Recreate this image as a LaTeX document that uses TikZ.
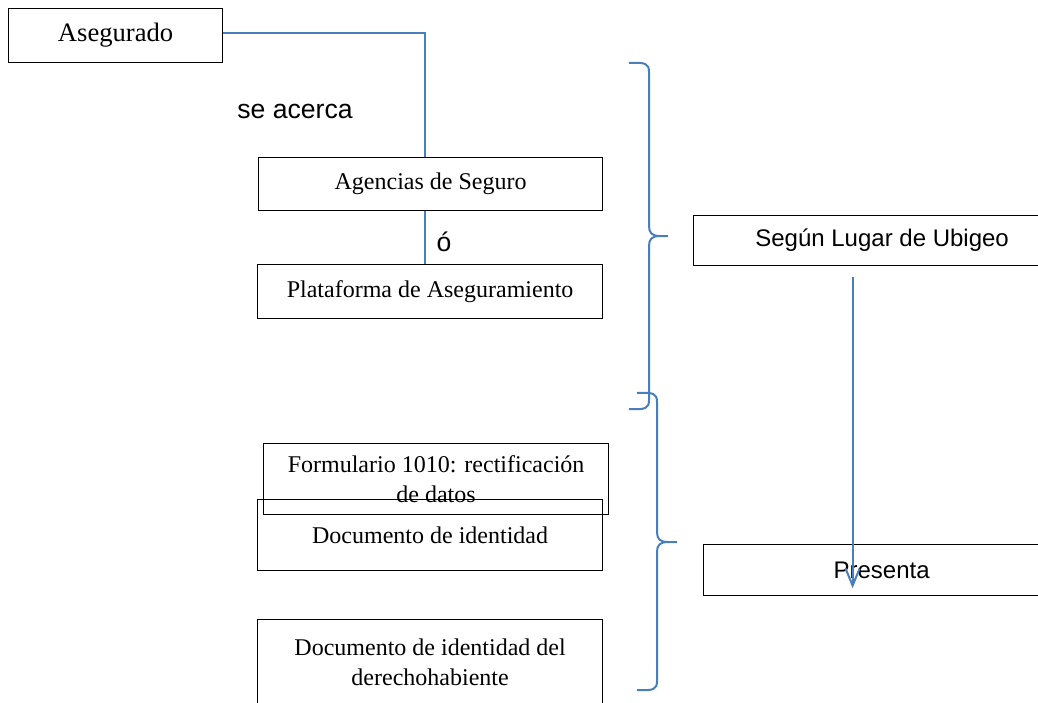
\documentclass[tikz,border=0pt]{standalone}
\usepackage{fontspec}
\setmainfont{Liberation Serif}
\setsansfont{Liberation Sans}
\usetikzlibrary{positioning,arrows.meta}
\definecolor{azul}{HTML}{4A7EBB}

\begin{document}
\begin{tikzpicture}[x=0.5pt,y=-0.5pt,
        every node/.style={font=\fontsize{12}{15}\selectfont},
        block/.style={draw,rectangle,anchor=north west,inner sep=0pt,align=center,line width=0.6pt},
        texto/.style={font=\sffamily\fontsize{12}{15}\selectfont},
        grande/.style={font=\fontsize{13.3}{16}\selectfont},
        textogrande/.style={font=\sffamily\fontsize{13.3}{16}\selectfont},
        link/.style={azul,line width=1pt},
        llave/.style={azul,line width=1pt}]
   \useasboundingbox (0,0) rectangle (1038,702);
   \clip (0,0) rectangle (1038,702);

   \node (ase) [block,grande,minimum width=107pt,minimum height=27pt] at (8,8) {Asegurado};
   \node (age) [block,minimum width=172pt,minimum height=26.5pt] at (258,157) {Agencias de Seguro};
   \node (pla) [block,minimum width=172.5pt,minimum height=27pt] at (257,264) {Plataforma de Aseguramiento};
   \node (acerca) [textogrande] at (295,111) {se acerca};
   \node (o) [textogrande] at (444,242) {ó};
   \draw[link] ([yshift=1.5pt]ase.east) -| ([xshift=-3pt]age.north);
   \draw[link] ([xshift=-3pt]age.south) -- ([xshift=-3pt]age.south |- pla.north);

   \node (ubi) [block,texto,minimum width=172.5pt,minimum height=25pt] at (693,215) {\hspace*{16pt}Según Lugar de Ubigeo};

   % documentos
   \node (for) [block,minimum width=172.5pt,minimum height=35.5pt] at (263,443) {Formulario 1010: rectificación\\de datos};
   \node (doc) [block,minimum width=172.5pt,minimum height=35.5pt] at (257,499) {Documento de identidad};
   \node (der) [block,minimum width=172.5pt,minimum height=43pt] at (257,619) {Documento de identidad del\\derechohabiente};
   \node (pre) [block,texto,minimum width=172pt,minimum height=25.5pt] at (703,544) {\hspace*{6pt}Presenta};

   \coordinate (ini) at ([xshift=-6.75pt,yshift=-5.5pt]ubi.south);
   \draw[link,-{Straight Barb[length=8.5pt,width=7pt]}] (ini) -- ([yshift=4pt]ini |- pre.south);

   % llaves
   \draw[llave] (629,63) .. controls (646,62) and (649,64) .. (649,72) -- (649,226)
      .. controls (649,233) and (652,236) .. (660,236) -- (668,236)
      (660,236) .. controls (652,236) and (649,239) .. (649,246) -- (649,400)
      .. controls (649,408) and (646,410) .. (629,409);
   \draw[llave] (637,393) .. controls (654,392) and (657,394) .. (657,402) -- (657,532)
      .. controls (657,539) and (660,542) .. (668,542) -- (677,542)
      (668,542) .. controls (660,542) and (657,545) .. (657,552) -- (657,681)
      .. controls (657,689) and (654,691) .. (637,690);
\end{tikzpicture}
\end{document}
